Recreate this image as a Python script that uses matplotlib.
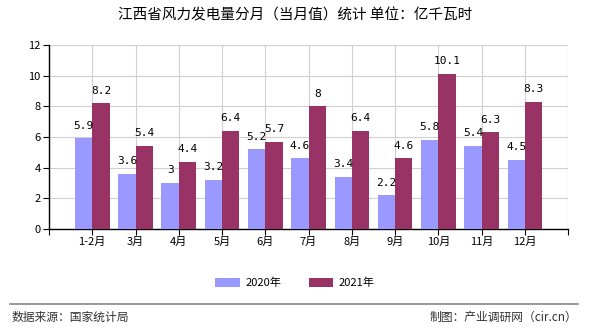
import matplotlib
matplotlib.use("Agg")
import matplotlib.pyplot as plt
import numpy as np

plt.rcParams['font.family'] = ['Noto Sans CJK SC', 'DejaVu Sans']

months = ["1-2月", "3月", "4月", "5月", "6月", "7月", "8月", "9月", "10月", "11月", "12月"]
values_2020 = [5.9, 3.6, 3, 3.2, 5.2, 4.6, 3.4, 2.2, 5.8, 5.4, 4.5]
values_2021 = [8.2, 5.4, 4.4, 6.4, 5.7, 8, 6.4, 4.6, 10.1, 6.3, 8.3]
series_names = ["2020年", "2021年"]

c2020 = "#9999FF"
c2021 = "#993366"

fig = plt.figure(figsize=(5.9, 3.3), dpi=100)
ax = fig.add_axes([0.083, 0.306, 0.88, 0.558])

x = np.arange(len(months))
w = 0.4
b1 = ax.bar(x - w / 2, values_2020, w, color=c2020, label=series_names[0], zorder=3)
b2 = ax.bar(x + w / 2, values_2021, w, color=c2021, label=series_names[1], zorder=3)

def fmt(v):
    return f"{v:g}"

# value labels above each bar
for bars, vals in [(b1, values_2020), (b2, values_2021)]:
    for rect, v in zip(bars, vals):
        ax.text(rect.get_x() + rect.get_width() / 2, v + 0.5, fmt(v),
                ha="center", va="bottom", fontsize=8, family="DejaVu Sans Mono", zorder=4)

ax.set_xlim(-1, len(months))
ax.set_ylim(0, 12)
ax.set_yticks(range(0, 13, 2))
ax.set_xticks(range(-1, len(months) + 1))
ax.set_xticklabels([""] + months + [""])
ax.tick_params(axis="both", labelsize=8, length=4, width=0.8, pad=2)

ax.grid(True, color="#D0D0D0", linewidth=0.8, zorder=0)
for s in ["top", "right"]:
    ax.spines[s].set_visible(False)
ax.spines["left"].set_linewidth(1)
ax.spines["bottom"].set_linewidth(1)
ax.axhline(12, color="#D0D0D0", linewidth=0.8, zorder=0)
ax.axvline(len(months), color="#D0D0D0", linewidth=0.8, zorder=0)

fig.text(0.5, 0.952, "江西省风力发电量分月（当月值）统计 单位：亿千瓦时",
         ha="center", va="center", fontsize=10.5)

fig.legend(handles=[b1, b2], loc="center", bbox_to_anchor=(0.5, 0.142), ncol=2,
           frameon=False, fontsize=8, handlelength=2.2, handleheight=0.9,
           columnspacing=2.5, handletextpad=0.5)

line = plt.Line2D([0.017, 0.98], [0.078, 0.078], transform=fig.transFigure,
                  color="#888888", linewidth=1.2)
fig.add_artist(line)
fig.text(0.02, 0.037, "数据来源：国家统计局", ha="left", va="center",
         fontsize=8.5, color="#333333")
fig.text(0.978, 0.037, "制图：产业调研网（cir.cn）", ha="right", va="center",
         fontsize=8.5, color="#333333")

fig.savefig("out.png", dpi=100)
